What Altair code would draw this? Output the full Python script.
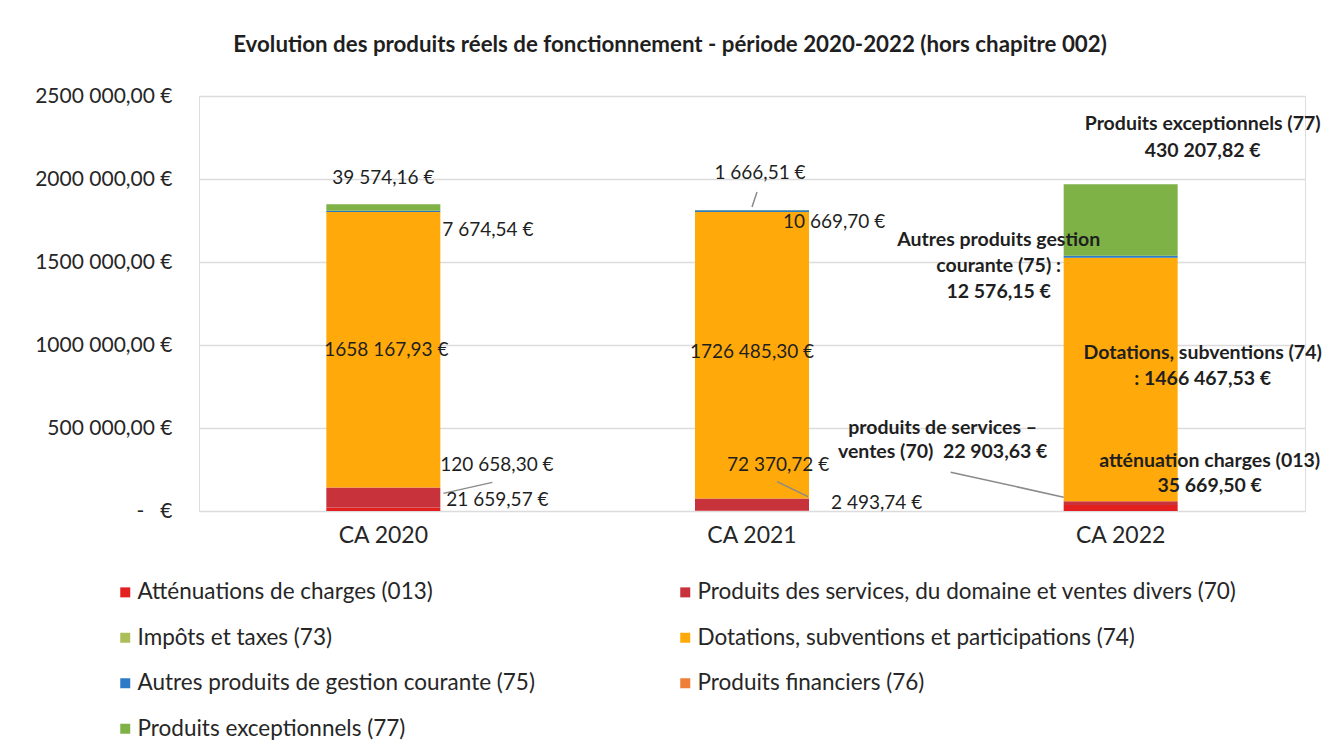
import altair as alt
import pandas as pd

categories = ["CA 2020", "CA 2021", "CA 2022"]
series = [
    "Atténuations de charges (013)",
    "Produits des services, du domaine et ventes divers (70)",
    "Impôts et taxes (73)",
    "Dotations, subventions et participations (74)",
    "Autres produits de gestion courante (75)",
    "Produits financiers (76)",
    "Produits exceptionnels (77)",
]
colors = ["#E3201F", "#C8323A", "#ABBE58", "#FFAA0A", "#2D7BC6", "#EF7E38", "#7EB247"]
# legend is filled column by column: this order reads row by row as in the original
legend_order = [0, 2, 4, 6, 1, 3, 5]

v013 = [21659.57, 2493.74, 35669.50]
v70 = [120658.30, 72370.72, 22903.63]
v73 = [0.0, 0.0, 0.0]
v74 = [1658167.93, 1726485.30, 1466467.53]
v75 = [7674.54, 10669.70, 12576.15]
v76 = [0.0, 0.0, 0.0]
v77 = [39574.16, 1666.51, 430207.82]
all_vals = [v013, v70, v73, v74, v75, v76, v77]

y_ticks = [0, 500000, 1000000, 1500000, 2000000, 2500000]
y_tick_labels = ["-\u00a0\u00a0\u00a0€", "500 000,00 €", "1000 000,00 €", "1500 000,00 €",
                 "2000 000,00 €", "2500 000,00 €"]

title_text = "Evolution des produits réels de fonctionnement - période 2020-2022 (hors chapitre 002)"

# data labels: (category index, series index, anchor kind, text)
label_cat = [0, 0, 0, 0, 0, 1, 1, 1, 1, 1, 2, 2, 2, 2, 2]
label_ser = [6, 4, 3, 1, 0, 6, 4, 3, 1, 0, 6, 4, 3, 1, 0]
label_anchor = ["top", "mid", "mid", "mid", "mid",
                "top", "mid", "mid", "mid", "mid",
                "top", "mid", "mid", "mid", "mid"]
label_text = [
    "39 574,16 €", "7 674,54 €", "1658 167,93 €", "120 658,30 €", "21 659,57 €",
    "1 666,51 €", "10 669,70 €", "1726 485,30 €", "72 370,72 €", "2 493,74 €",
    "Produits exceptionnels (77)\n430 207,82 €",
    "Autres produits gestion\ncourante (75) :\n12 576,15 €",
    "Dotations, subventions (74)\n: 1466 467,53 €",
    "produits de services –\nventes (70)\u00a0 22 903,63 €",
    "atténuation charges (013)\n35 669,50 €",
]
# styling of labels (offsets in pixels, alignment, weight)
label_dx = [0, 59, 3, 57, 63, 8, 31, 0, -25, 79, 82, -122, 82, -178, 89]
label_dy = [-26, 18.5, 0, -32, -9, -37, 11, -3, -40, -8, -60, -17, -26.5, -75, -47]
label_align = ["center", "left", "center", "left", "left",
               "center", "left", "center", "left", "left",
               "center", "center", "center", "center", "center"]
label_bold = [False] * 10 + [True] * 5
label_lh = [26] * 10 + [27, 26, 26, 24, 25]

# leader lines: anchored on a segment (category index, series index, anchor kind)
leader_cat = [0, 1, 1, 2]
leader_ser = [1, 6, 1, 1]
leader_anchor = ["mid", "top", "mid", "mid"]
# pixel offsets of both ends relative to the anchor (style)
leader_off = [
    (60, -4, 109, -15),
    (0, -3, 5, -18),
    (25, -23, 56, -8),
    (-170, -31, -57, -6),
]

FONT = "Lato"

rows = []
for si, (s, vals) in enumerate(zip(series, all_vals)):
    for ci, c in enumerate(categories):
        rows.append({"cat": c, "serie": s, "order": si, "value": vals[ci]})
df = pd.DataFrame(rows)


def anchor_value(ci, si, kind):
    if kind == "top":
        return sum(all_vals[k][ci] for k in range(len(series)))
    base = sum(all_vals[k][ci] for k in range(si))
    return base + all_vals[si][ci] / 2


label_expr = " : ".join(
    f"datum.value == {v} ? '{t}'" for v, t in zip(y_ticks, y_tick_labels)
) + " : ''"

x_enc = alt.X(
    "cat:N", sort=categories, title=None,
    scale=alt.Scale(paddingInner=0, paddingOuter=0),
    axis=alt.Axis(labelAngle=0, domain=False, ticks=False, labelFontSize=23,
                  labelPadding=13, labelColor="#262626", labelFont=FONT, grid=False),
)

bars = alt.Chart(df).mark_bar(size=114).encode(
    x=x_enc,
    y=alt.Y("value:Q", stack="zero", title=None,
            scale=alt.Scale(domain=[0, 2500000], nice=False),
            axis=alt.Axis(values=y_ticks, labelExpr=label_expr, domain=False, ticks=False,
                          grid=True, gridColor="#dcdcdc", gridWidth=1.5,
                          labelFontSize=21, labelPadding=27, labelColor="#262626",
                          labelFont=FONT)),
    color=alt.Color("serie:N",
                    scale=alt.Scale(domain=[series[k] for k in legend_order],
                                    range=[colors[k] for k in legend_order]),
                    legend=alt.Legend(title=None, orient="none", legendX=-85, legendY=485,
                                      columns=2, symbolType="square", symbolSize=100,
                                      symbolStrokeWidth=0, labelFontSize=22.5, labelFont=FONT,
                                      labelColor="#262626", labelLimit=0, rowPadding=22.5,
                                      columnPadding=139, labelOffset=1, padding=0,
                                      gridAlign="each")),
    order=alt.Order("order:Q"),
)

layers = [bars]

for i in range(len(leader_cat)):
    ci = leader_cat[i]
    a = anchor_value(ci, leader_ser[i], leader_anchor[i])
    x0, y0, x1, y1 = leader_off[i]
    ldf = pd.DataFrame([{"cat": categories[ci], "value": a, "value2": a}])
    r = alt.Chart(ldf).mark_rule(
        color="#8a8a8a", strokeWidth=1.5,
        xOffset=x0, yOffset=y0, x2Offset=x1, y2Offset=y1,
    ).encode(
        x=alt.X("cat:N", sort=categories),
        x2=alt.X2("cat"),
        y=alt.Y("value:Q", stack=None),
        y2=alt.Y2("value2"),
    )
    layers.append(r)

for i in range(len(label_text)):
    ci = label_cat[i]
    anchor = anchor_value(ci, label_ser[i], label_anchor[i])
    ldf = pd.DataFrame([{"cat": categories[ci], "value": anchor, "txt": label_text[i]}])
    t = alt.Chart(ldf).mark_text(
        dx=label_dx[i], dy=label_dy[i], align=label_align[i], baseline="middle",
        fontSize=19.5 if label_bold[i] else 19,
        fontWeight="bold" if label_bold[i] else "normal",
        font=FONT, color="#1f1f1f", lineBreak="\n", lineHeight=label_lh[i],
    ).encode(
        x=alt.X("cat:N", sort=categories),
        y=alt.Y("value:Q", stack=None),
        text="txt:N",
    )
    layers.append(t)

chart = alt.layer(*layers).properties(
    width=1106, height=415,
    title=alt.TitleParams(title_text, fontSize=22.3, fontWeight="bold", font=FONT,
                          color="#1f1f1f", anchor="middle", dx=-82, offset=29),
    autosize=alt.AutoSizeParams(type="none"),
    padding={"left": 191, "top": 88, "right": 20, "bottom": 236},
).configure_view(stroke=None).configure(background="white")

chart.save("out.html", embed_options={"renderer": "svg", "actions": False})
